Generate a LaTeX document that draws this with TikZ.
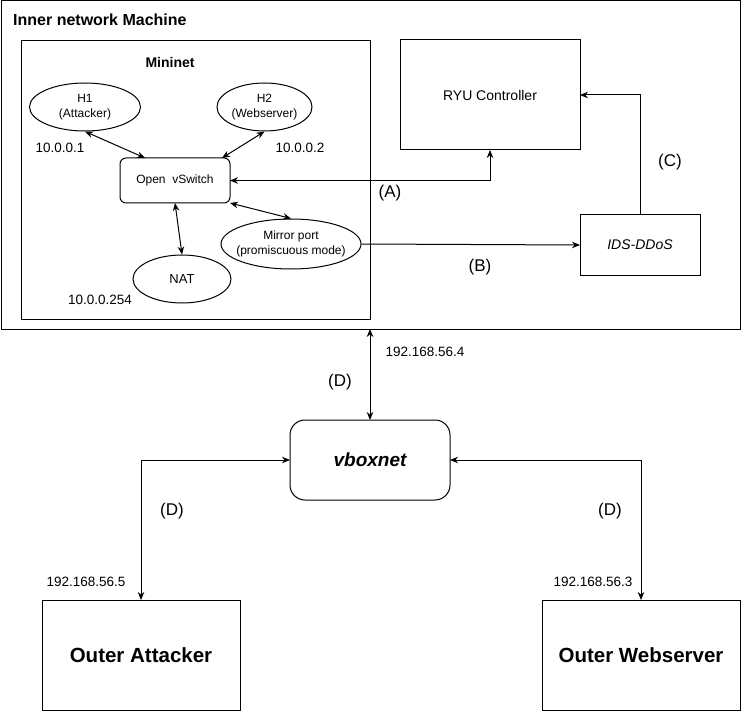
\documentclass[tikz,border=0pt]{standalone}
\usepackage{fontspec}
\setmainfont{Liberation Sans}
\usetikzlibrary{shapes.geometric, arrows.meta}

\newcommand{\pxfont}[1]{\fontsize{#1}{#1}\selectfont}

\tikzset{
    frame/.style={draw, line width=1pt, inner sep=0pt, outer sep=0pt},
    box/.style={frame, align=center},
    % Mininet parts
    host/.style={ellipse, draw, line width=1pt, inner sep=0pt, align=center, font=\fontsize{12}{15}\selectfont},
    switch/.style={box, rounded corners=6pt, minimum width=110pt, minimum height=45pt, font=\pxfont{12}},
    ip/.style={font=\pxfont{13.5}, inner sep=1pt},
    tag/.style={font=\pxfont{17}, inner sep=1pt},
    outer/.style={box, minimum width=198pt, minimum height=110pt, font=\pxfont{20.5}\bfseries},
    % Connectors
    conn/.style={line width=1pt, arrows={-Stealth[length=8pt, width=6.5pt]}},
    biconn/.style={line width=1pt, arrows={Stealth[length=8pt, width=6.5pt]-Stealth[length=8pt, width=6.5pt]}}
}

\begin{document}
\begin{tikzpicture}[x=1pt, y=-1pt]
    \useasboundingbox (0,0) rectangle (741,711);

    % Inner machine and Mininet frames
    \node[frame, minimum width=739pt, minimum height=328pt] (inner) at (370.5,165) {};
    \node[anchor=west, inner sep=0pt, font=\pxfont{16}\bfseries] (innertitle) at (13,20) {Inner network Machine};
    \node[frame, minimum width=349pt, minimum height=279pt] (mininet) at (195.5,180) {};
    \node[font=\pxfont{14}\bfseries] (mininettitle) at (170,62) {Mininet};

    % Hosts and switch inside Mininet
    \node[host, minimum width=111pt, minimum height=48pt] (h1) at (85,107) {H1\\(Attacker)};
    \node[host, minimum width=95pt, minimum height=48pt] (h2) at (264.5,107) {H2\\(Webserver)};
    \node[switch] (vswitch) at (175,180.5) {Open~~vSwitch};
    \node[host, minimum width=140pt, minimum height=50pt,
          label={[align=center, font=\fontsize{12}{15}\selectfont]center:Mirror port\\(promiscuous mode)}] (mirror) at (291,244) {};
    \node[host, minimum width=98pt, minimum height=48pt, font=\pxfont{13}] (nat) at (182,279) {NAT};

    \node[ip] (iph1) at (60,148) {10.0.0.1};
    \node[ip] (iph2) at (300,148) {10.0.0.2};
    \node[ip] (ipnat) at (100,300) {10.0.0.254};

    \draw[biconn] (h1.south) -- ([xshift=-30pt]vswitch.north);
    \draw[biconn] (h2.south) -- ([xshift=47pt]vswitch.north);
    \draw[biconn] (vswitch.south) -- (nat.north);
    \draw[biconn] (vswitch.south east) -- (mirror.north);

    % Controller and IDS
    \node[box, minimum width=180pt, minimum height=110pt, font=\pxfont{14}] (ryu) at (490,95) {RYU Controller};
    \node[box, minimum width=120pt, minimum height=60pt, font=\pxfont{14}\itshape] (ids) at (640,245) {IDS-DDoS};

    \draw[biconn] (vswitch.east) -| (ryu.south);
    \node[tag] (taga) at (390,193) {(A)};
    \draw[conn] (mirror.east) -- (ids.west);
    \node[tag] (tagb) at (480,267) {(B)};
    \draw[conn] (ids.north) |- (ryu.east);
    \node[tag] (tagc) at (670,162) {(C)};

    % vboxnet and outer machines
    \node[box, rounded corners=15pt, minimum width=160pt, minimum height=80pt, font=\pxfont{19}\bfseries\itshape] (vbox) at (370,460) {vboxnet};
    \node[outer] (attacker) at (141,655) {Outer Attacker};
    \node[outer] (webserver) at (641,655) {Outer Webserver};

    \draw[biconn] (vbox.north |- inner.south) -- (vbox.north);
    \node[ip] (ipvbox) at (425,352) {192.168.56.4};
    \node[tag] (tagd) at (340,382) {(D)};

    \draw[biconn] (vbox.west) -| (attacker.north);
    \node[tag] (tagdl) at (172,511) {(D)};
    \node[ip] (ipatt) at (86,582) {192.168.56.5};

    \draw[biconn] (vbox.east) -| (webserver.north);
    \node[tag] (tagdr) at (610,511) {(D)};
    \node[ip] (ipweb) at (593,582) {192.168.56.3};
\end{tikzpicture}
\end{document}
